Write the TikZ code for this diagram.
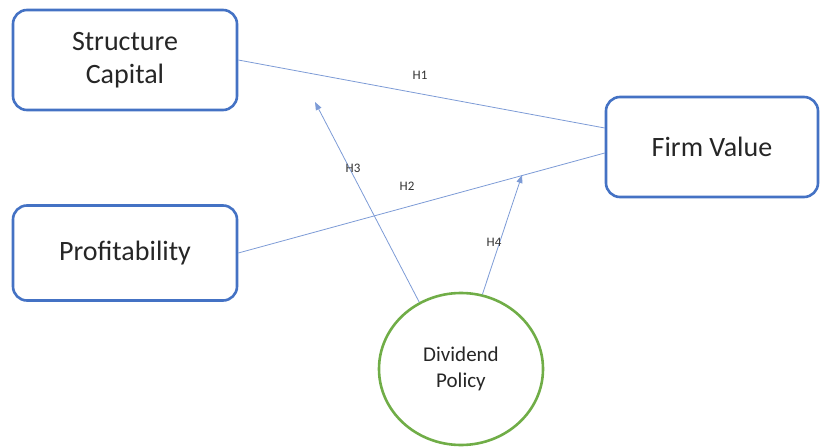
\documentclass[tikz,border=0pt]{standalone}
\usepackage{fontspec}
\setmainfont{Carlito}
\usetikzlibrary{arrows.meta,shapes.geometric}
\definecolor{boxblue}{HTML}{4472C4}
\definecolor{lineblue}{HTML}{7D9BD6}
\definecolor{circgreen}{HTML}{70AD47}
\begin{document}
\begin{tikzpicture}[x=1pt,y=-1pt,
  varbox/.style={draw=boxblue,line width=2.6pt,rounded corners=14pt,fill=white,align=center,font=\fontsize{28}{33}\selectfont,text=black!85,inner sep=0pt},
  rel/.style={draw=lineblue,line width=0.8pt},
  relarrow/.style={rel,-{Triangle[length=8pt,width=6pt]}},
  hlab/.style={font=\fontsize{13}{15}\selectfont,text=black!80}]
\useasboundingbox (0,0) rectangle (820,447);
\node[varbox,minimum width=224pt,minimum height=100pt] (sc) at (125,60) {Structure\\Capital};
\node[varbox,minimum width=224pt,minimum height=95pt] (pr) at (125,253) {Profitability};
\node[varbox,minimum width=212pt,minimum height=100pt] (fv) at (712,147) {Firm Value};
\node[draw=circgreen,line width=2.6pt,ellipse,minimum width=164pt,minimum height=152pt,inner sep=0pt,align=center,font=\fontsize{21}{26}\selectfont,text=black!85] (dp) at (461,369) {Dividend\\Policy};
\coordinate (t3) at (315,102);
\coordinate (t4) at (522,175);
\draw[rel] (sc.east) -- (fv.west |- 0,128);
\draw[rel] (pr.east) -- (fv.west |- 0,153);
\draw[relarrow] (dp.122) -- (t3);
\draw[relarrow] (dp.74) -- (t4);
\node[hlab] (h1) at (420,75) {H1};
\node[hlab] (h2) at (407,186) {H2};
\node[hlab] (h3) at (353,168) {H3};
\node[hlab] (h4) at (494,242) {H4};
\end{tikzpicture}
\end{document}
